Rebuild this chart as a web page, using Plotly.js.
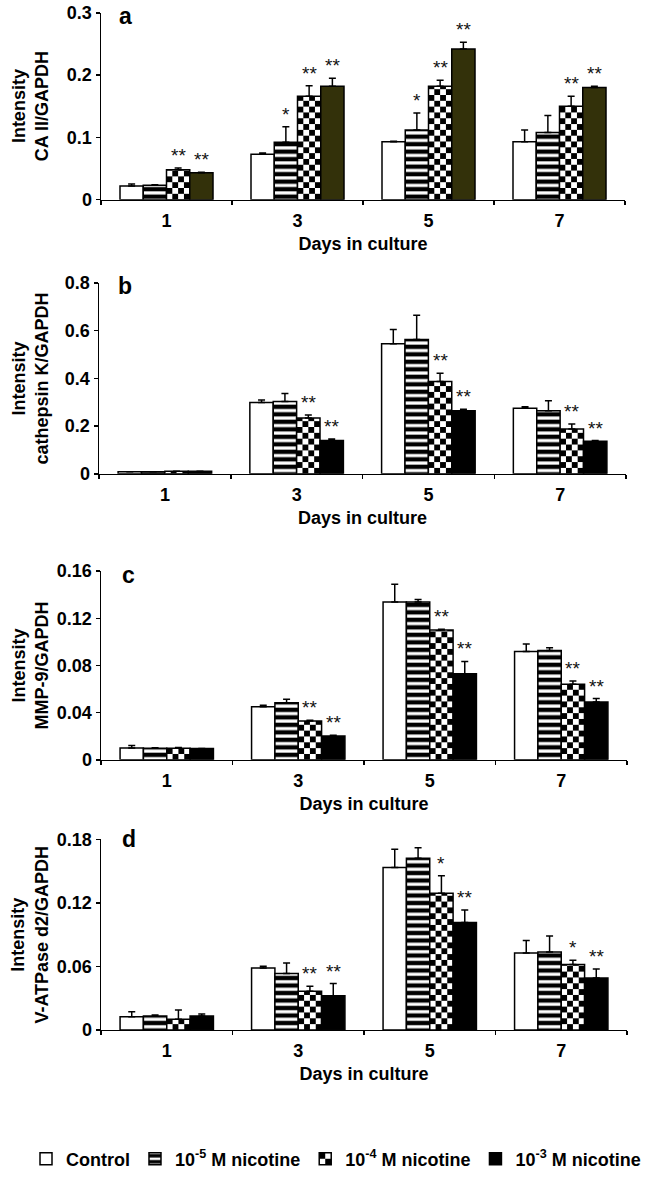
<!DOCTYPE html>
<html>
<head>
<meta charset="utf-8">
<script src="https://cdn.plot.ly/plotly-3.0.1.min.js"></script>
<style>
html,body{margin:0;padding:0;background:#fff;}
#chart{width:654px;height:1178px;}
</style>
</head>
<body>
<div id="chart"></div>
<script>
// ---------- data ----------
const days = ['1', '3', '5', '7'];
const seriesNames = ['Control', '10<sup>-5</sup> M nicotine', '10<sup>-4</sup> M nicotine', '10<sup>-3</sup> M nicotine'];

// panel a: CA II/GAPDH
const caControl = [0.022, 0.073, 0.093, 0.093];
const caNic5    = [0.023, 0.092, 0.112, 0.108];
const caNic4    = [0.048, 0.166, 0.182, 0.150];
const caNic3    = [0.043, 0.182, 0.242, 0.180];
const caErrControl = [0.003, 0.002, 0.001, 0.019];
const caErrNic5    = [0.001, 0.025, 0.027, 0.027];
const caErrNic4    = [0.003, 0.017, 0.010, 0.016];
const caErrNic3    = [0.001, 0.013, 0.011, 0.002];
const caSigNic5 = ['', '*', '*', ''];
const caSigNic4 = ['**', '**', '**', '**'];
const caSigNic3 = ['**', '**', '**', '**'];
const caTicks = [0, 0.1, 0.2, 0.3];

// panel b: cathepsin K/GAPDH
const ctsControl = [0.008, 0.299, 0.545, 0.275];
const ctsNic5    = [0.008, 0.303, 0.563, 0.264];
const ctsNic4    = [0.010, 0.234, 0.387, 0.188];
const ctsNic3    = [0.010, 0.139, 0.264, 0.136];
const ctsErrControl = [0, 0.010, 0.060, 0.006];
const ctsErrNic5    = [0, 0.034, 0.102, 0.042];
const ctsErrNic4    = [0, 0.012, 0.035, 0.021];
const ctsErrNic3    = [0, 0.007, 0.007, 0.003];
const ctsSigNic5 = ['', '', '', ''];
const ctsSigNic4 = ['', '**', '**', '**'];
const ctsSigNic3 = ['', '**', '**', '**'];
const ctsTicks = [0, 0.2, 0.4, 0.6, 0.8];

// panel c: MMP-9/GAPDH
const mmpControl = [0.0100, 0.0449, 0.1339, 0.0918];
const mmpNic5    = [0.0098, 0.0483, 0.1339, 0.0926];
const mmpNic4    = [0.0098, 0.0328, 0.1100, 0.0640];
const mmpNic3    = [0.0095, 0.0202, 0.0730, 0.0491];
const mmpErrControl = [0.0022, 0.0014, 0.0150, 0.0064];
const mmpErrNic5    = [0.0005, 0.0030, 0.0020, 0.0025];
const mmpErrNic4    = [0.0006, 0.0008, 0.0006, 0.0028];
const mmpErrNic3    = [0, 0.0006, 0.0104, 0.0028];
const mmpSigNic5 = ['', '', '', ''];
const mmpSigNic4 = ['', '**', '**', '**'];
const mmpSigNic3 = ['', '**', '**', '**'];
const mmpTicks = [0, 0.04, 0.08, 0.12, 0.16];

// panel d: V-ATPase d2/GAPDH
const atpControl = [0.0125, 0.0585, 0.1534, 0.0726];
const atpNic5    = [0.0131, 0.0532, 0.1621, 0.0736];
const atpNic4    = [0.0100, 0.0366, 0.1290, 0.0617];
const atpNic3    = [0.0131, 0.0322, 0.1014, 0.0491];
const atpErrControl = [0.0047, 0.0016, 0.0172, 0.0119];
const atpErrNic5    = [0.0010, 0.0100, 0.0100, 0.0150];
const atpErrNic4    = [0.0088, 0.0047, 0.0166, 0.0040];
const atpErrNic3    = [0.0019, 0.0116, 0.0119, 0.0085];
const atpSigNic5 = ['', '', '', ''];
const atpSigNic4 = ['', '**', '*', '*'];
const atpSigNic3 = ['', '**', '**', '**'];
const atpTicks = [0, 0.06, 0.12, 0.18];

const panelLetters = ['a', 'b', 'c', 'd'];
const yTitles = ['Intensity<br>CA II/GAPDH', 'Intensity<br>cathepsin K/GAPDH', 'Intensity<br>MMP-9/GAPDH', 'Intensity<br>V-ATPase d2/GAPDH'];
const xTitle = 'Days in culture';

// ---------- layout helpers ----------
const W = 654, H = 1178;
const FONT = 'Liberation Sans, Arial, Helvetica, sans-serif';
const BARGAP = 0.29;
const px = v => v / W;
const py = v => 1 - v / H;

const panels = [
  {vals: [caControl, caNic5, caNic4, caNic3], errs: [caErrControl, caErrNic5, caErrNic4, caErrNic3],
   sigs: [null, caSigNic5, caSigNic4, caSigNic3], ticks: caTicks,
   xd: [101, 625], yd: [201, 13], dark: '#33310a', letter: [125, 16]},
  {vals: [ctsControl, ctsNic5, ctsNic4, ctsNic3], errs: [ctsErrControl, ctsErrNic5, ctsErrNic4, ctsErrNic3],
   sigs: [null, ctsSigNic5, ctsSigNic4, ctsSigNic3], ticks: ctsTicks,
   xd: [99, 626], yd: [477, 285], dark: '#000000', letter: [125, 288]},
  {vals: [mmpControl, mmpNic5, mmpNic4, mmpNic3], errs: [mmpErrControl, mmpErrNic5, mmpErrNic4, mmpErrNic3],
   sigs: [null, mmpSigNic5, mmpSigNic4, mmpSigNic3], ticks: mmpTicks,
   xd: [101, 627], yd: [765, 575], dark: '#000000', letter: [128, 579]},
  {vals: [atpControl, atpNic5, atpNic4, atpNic3], errs: [atpErrControl, atpErrNic5, atpErrNic4, atpErrNic3],
   sigs: [null, atpSigNic5, atpSigNic4, atpSigNic3], ticks: atpTicks,
   xd: [101, 627], yd: [1037, 845], dark: '#000000', letter: [129, 845]}
];

const xIdx = days.map((d, i) => i);
const boundaries = days.map((d, i) => i - 0.5).concat([days.length - 0.5]);
const barW = (1 - BARGAP) / 4;

const traces = [];
const annotations = [];
const layout = {
  width: W, height: H,
  margin: {l: 0, r: 0, t: 0, b: 0},
  paper_bgcolor: '#ffffff', plot_bgcolor: 'rgba(0,0,0,0)',
  barmode: 'group', bargap: BARGAP, bargroupgap: 0,
  font: {family: FONT, size: 18, color: '#000'},
  showlegend: true,
  legend: {orientation: 'h', x: px(26), xanchor: 'left', y: py(1167), yanchor: 'middle',
           font: {family: FONT, size: 18, color: '#000', weight: 'bold'},
           bgcolor: 'rgba(0,0,0,0)', traceorder: 'normal'},
  annotations: annotations
};

panels.forEach((p, pi) => {
  const xa = pi === 0 ? 'x' : 'x' + (pi + 1);
  const ya = pi === 0 ? 'y' : 'y' + (pi + 1);
  const xKey = pi === 0 ? 'xaxis' : 'xaxis' + (pi + 1);
  const yKey = pi === 0 ? 'yaxis' : 'yaxis' + (pi + 1);
  const top = p.ticks[p.ticks.length - 1];

  layout[xKey] = {
    domain: [px(p.xd[0]), px(p.xd[1])], anchor: ya,
    range: [-0.5, days.length - 0.5], type: 'linear',
    tickmode: 'array', tickvals: xIdx, ticktext: days, ticks: '',
    ticklabelstandoff: 4,
    minor: {tickmode: 'array', tickvals: boundaries, ticks: 'outside', ticklen: 4, tickwidth: 1.5, tickcolor: '#000', showgrid: false},
    showline: true, linecolor: '#000', linewidth: 1.5,
    showgrid: false, zeroline: false, fixedrange: true,
    tickfont: {family: FONT, size: 18, color: '#000', weight: 'bold'},
    title: {text: xTitle, standoff: 7, font: {family: FONT, size: 18, color: '#000', weight: 'bold'}}
  };
  layout[yKey] = {
    domain: [py(p.yd[0]), py(p.yd[1])], anchor: xa,
    range: [0, top], tickmode: 'array', tickvals: p.ticks,
    ticks: 'outside', ticklen: 4, tickwidth: 1.5, tickcolor: '#000',
    showline: true, linecolor: '#000', linewidth: 1.5,
    showgrid: false, zeroline: false, fixedrange: true,
    tickfont: {family: FONT, size: 18, color: '#000', weight: 'bold'}
  };

  const fills = [
    {color: '#ffffff'},
    {color: '#ffffff', pattern: {shape: '-', size: 7.5, solidity: 0.58, fgcolor: '#000', bgcolor: '#fff', fillmode: 'replace'}},
    {color: '#ffffff'},
    {color: p.dark}
  ];

  for (let k = 0; k < 4; k++) {
    traces.push({
      type: 'bar', x: xIdx, y: p.vals[k], xaxis: xa, yaxis: ya,
      name: seriesNames[k], showlegend: pi === 3, legendgroup: 's' + k,
      meta: k === 2 ? 'checker' : 'plain',
      marker: Object.assign({line: {color: '#000', width: 1.5}}, fills[k]),
      error_y: {type: 'data', array: p.errs[k], arrayminus: p.errs[k].map(() => 0), symmetric: false,
                color: '#000', thickness: 1.5, width: 3.5},
      hoverinfo: 'skip'
    });
    if (p.sigs[k]) {
      p.sigs[k].forEach((s, i) => {
        if (!s) return;
        annotations.push({
          xref: xa, yref: ya, x: i + (k - 1.5) * barW, y: p.vals[k][i] + p.errs[k][i],
          text: s, showarrow: false, xanchor: 'center', yanchor: 'bottom', yshift: 0,
          font: {family: FONT, size: 19, color: '#111'}
        });
      });
    }
  }

  annotations.push({
    xref: 'paper', yref: 'paper', x: px(p.letter[0]), y: py(p.letter[1]),
    text: panelLetters[pi], showarrow: false, xanchor: 'center', yanchor: 'middle',
    font: {family: FONT, size: 23, color: '#000', weight: 'bold'}
  });
  annotations.push({
    xref: 'paper', yref: 'paper', x: px(30), y: py((p.yd[0] + p.yd[1]) / 2),
    text: yTitles[pi], showarrow: false, textangle: -90, xanchor: 'center', yanchor: 'middle',
    font: {family: FONT, size: 18, color: '#000', weight: 'bold'}
  });
});

// ---------- checkerboard fill for the 10^-4 M series ----------
function applyChecker(gd) {
  const NS = 'http://www.w3.org/2000/svg';
  const svg = gd.querySelector('svg.main-svg');
  let defs = svg.querySelector('defs');
  if (!defs) { defs = document.createElementNS(NS, 'defs'); svg.insertBefore(defs, svg.firstChild); }
  let n = 0;
  function pattern(bb, cols) {
    const cell = bb.width / cols;
    const id = 'chkpat' + (n++);
    const pat = document.createElementNS(NS, 'pattern');
    pat.setAttribute('id', id);
    pat.setAttribute('patternUnits', 'userSpaceOnUse');
    pat.setAttribute('x', bb.x);
    pat.setAttribute('y', bb.y + bb.height);
    pat.setAttribute('width', 2 * cell);
    pat.setAttribute('height', 2 * cell);
    const rects = [[0, 0, 2 * cell, 2 * cell, '#fff'], [0, 0, cell, cell, '#000'], [cell, cell, cell, cell, '#000']];
    rects.forEach(r => {
      const e = document.createElementNS(NS, 'rect');
      e.setAttribute('x', r[0]); e.setAttribute('y', r[1]);
      e.setAttribute('width', r[2]); e.setAttribute('height', r[3]);
      e.setAttribute('fill', r[4]);
      pat.appendChild(e);
    });
    defs.appendChild(pat);
    return 'url(#' + id + ')';
  }
  gd.querySelectorAll('g.trace.bars').forEach(g => {
    const cd = g.__data__;
    const tr = cd && cd[0] && cd[0].trace;
    if (!tr || tr.meta !== 'checker') return;
    g.querySelectorAll('g.point path').forEach(path => {
      const bb = path.getBBox();
      if (bb.width <= 0 || bb.height <= 0) return;
      path.style.fill = pattern(bb, 4);
    });
  });
  gd.querySelectorAll('g.legend g.traces').forEach(g => {
    const d = g.__data__;
    const tr = d && d[0] && (d[0].trace || (d[0][0] && d[0][0].trace));
    if (!tr || tr.meta !== 'checker') return;
    g.querySelectorAll('.legendpoints path').forEach(path => {
      const bb = path.getBBox();
      if (bb.width <= 0 || bb.height <= 0) return;
      path.style.fill = pattern(bb, 2);
    });
  });
}

const gd = document.getElementById('chart');
Plotly.newPlot(gd, traces, layout, {staticPlot: true, displayModeBar: false}).then(() => applyChecker(gd));
</script>
</body>
</html>
